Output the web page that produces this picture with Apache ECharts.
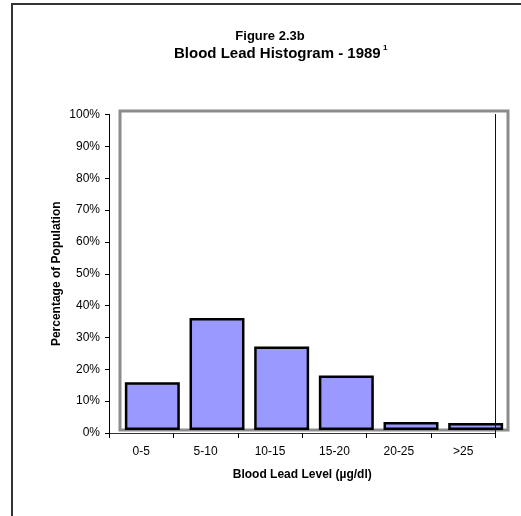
<!DOCTYPE html>
<html>
<head>
<meta charset="utf-8">
<script src="https://cdn.jsdelivr.net/npm/echarts@6/dist/echarts.min.js"></script>
<style>
  html, body { margin: 0; padding: 0; background: #fff; }
  #chart { width: 521px; height: 516px; }
</style>
</head>
<body>
<div id="chart"></div>
<script>
// Blood lead level bands (µg/dl)
const categories = ['0-5', '5-10', '10-15', '15-20', '20-25', '>25'];
// Share of population in each band, %
const shares = [15.0, 35.1, 26.2, 17.1, 2.5, 2.2];
// Percentage axis
const yMin = 0;
const yMax = 100;
const yStep = 10;

const FONT = '"Liberation Sans", Arial, sans-serif';
const chart = echarts.init(document.getElementById('chart'), null, { renderer: 'canvas' });

chart.setOption({
  animation: false,
  backgroundColor: '#fff',
  textStyle: { fontFamily: FONT },
  grid: [
    // plot area carrying the axes
    { left: 109, top: 114.5, width: 386.5, height: 318.5, show: false },
    // framed area the columns stand in
    { left: 120, top: 111, width: 388, height: 319, show: true,
      borderColor: '#8c8c8c', borderWidth: 3, backgroundColor: 'transparent' }
  ],
  xAxis: [
    {
      gridIndex: 0, type: 'category', data: categories, position: 'bottom',
      boundaryGap: true,
      axisLine: { show: true, lineStyle: { color: '#000', width: 1 } },
      axisTick: { show: true, length: 5, lineStyle: { color: '#000' } },
      axisLabel: { color: '#000', fontSize: 12, margin: 13, fontFamily: FONT },
      name: 'Blood Lead Level (µg/dl)', nameLocation: 'middle', nameGap: 36,
      nameMoveOverlap: false,
      nameTextStyle: { color: '#000', fontSize: 12, fontWeight: 'bold', fontFamily: FONT },
      z: 5
    },
    {
      gridIndex: 0, type: 'category', data: categories, position: 'top',
      axisLine: { show: true, lineStyle: { color: '#333', width: 1 } },
      axisTick: { show: false }, axisLabel: { show: false }, z: 5
    },
    {
      gridIndex: 1, type: 'category', data: categories, show: false
    }
  ],
  yAxis: [
    {
      gridIndex: 0, type: 'value', min: yMin, max: yMax, interval: yStep,
      position: 'left',
      axisLine: { show: true, lineStyle: { color: '#000', width: 1 } },
      axisTick: { show: true, length: 4, lineStyle: { color: '#000' } },
      axisLabel: { color: '#000', fontSize: 12, margin: 9, formatter: '{value}%', fontFamily: FONT },
      splitLine: { show: false },
      name: 'Percentage of Population', nameLocation: 'middle', nameGap: 46,
      nameMoveOverlap: false,
      nameTextStyle: { color: '#000', fontSize: 12, fontWeight: 'bold', fontFamily: FONT },
      z: 5
    },
    {
      gridIndex: 0, type: 'value', min: yMin, max: yMax, interval: yStep,
      position: 'right',
      axisLine: { show: true, lineStyle: { color: '#111', width: 1 } },
      axisTick: { show: false }, axisLabel: { show: false }, splitLine: { show: false },
      z: 5
    },
    {
      gridIndex: 1, type: 'value', min: yMin, max: yMax, show: false,
      splitLine: { show: false }
    }
  ],
  series: [
    {
      type: 'bar',
      xAxisIndex: 2,
      yAxisIndex: 2,
      data: shares,
      barWidth: '85%',
      itemStyle: { color: '#9999ff', borderColor: '#000', borderWidth: 2.5 },
      z: 2
    }
  ],
  graphic: [
    // page frame
    { type: 'rect', shape: { x: 12, y: 4, width: 600, height: 600 },
      style: { fill: 'none', stroke: '#333', lineWidth: 2 }, silent: true },
    { type: 'text', x: 270, y: 36,
      style: { text: 'Figure 2.3b', font: 'bold 13px ' + FONT, fill: '#000',
               textAlign: 'center', textVerticalAlign: 'middle' } },
    { type: 'text', x: 174, y: 54,
      style: { text: 'Blood Lead Histogram - 1989', font: 'bold 15px ' + FONT, fill: '#000',
               textAlign: 'left', textVerticalAlign: 'middle' } },
    { type: 'text', x: 383, y: 48,
      style: { text: '1', font: 'bold 8px ' + FONT, fill: '#000',
               textAlign: 'left', textVerticalAlign: 'middle' } }
  ]
});
</script>
</body>
</html>
